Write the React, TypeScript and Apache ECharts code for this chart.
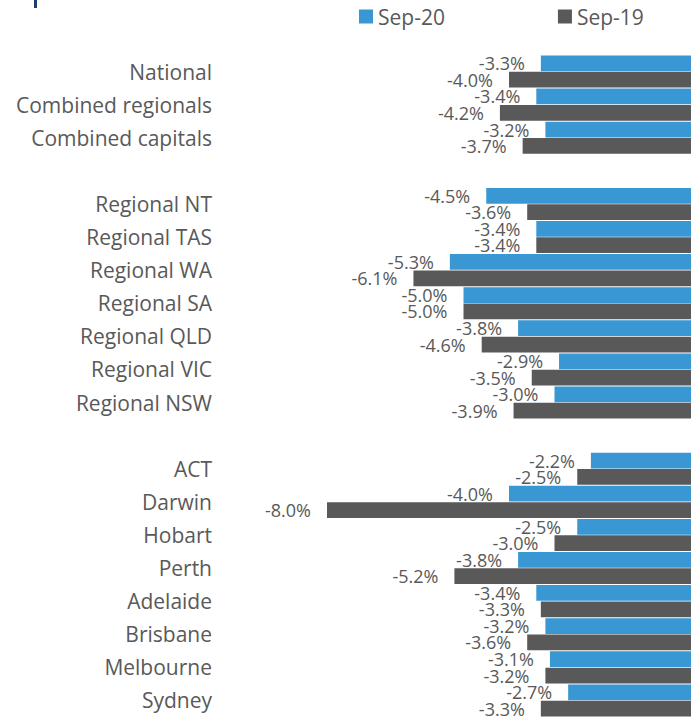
import React, { useEffect, useRef } from "react";
import * as echarts from "echarts";

const categories = [
  "National", "Combined regionals", "Combined capitals", " ",
  "Regional NT", "Regional TAS", "Regional WA", "Regional SA", "Regional QLD", "Regional VIC", "Regional NSW", "  ",
  "ACT", "Darwin", "Hobart", "Perth", "Adelaide", "Brisbane", "Melbourne", "Sydney",
];
const sep20 = [
  -3.3, -3.4, -3.2, null,
  -4.5, -3.4, -5.3, -5.0, -3.8, -2.9, -3.0, null,
  -2.2, -4.0, -2.5, -3.8, -3.4, -3.2, -3.1, -2.7,
];
const sep19 = [
  -4.0, -4.2, -3.7, null,
  -3.6, -3.4, -6.1, -5.0, -4.6, -3.5, -3.9, null,
  -2.5, -8.0, -3.0, -5.2, -3.3, -3.6, -3.2, -3.3,
];
const seriesNames = ["Sep-20", "Sep-19"];

const FONT = "'Open Sans', 'Noto Sans', sans-serif";
const TEXT = "#595959";

export default function App() {
  const ref = useRef<HTMLDivElement>(null);
  useEffect(() => {
    const chart = echarts.init(ref.current!, null, { renderer: "svg" });
    const label = {
      show: true,
      position: "left",
      distance: 16,
      color: TEXT,
      fontSize: 18,
      fontFamily: FONT,
      formatter: (p: any) => (p.value == null ? "" : Number(p.value).toFixed(1) + "%"),
    };
    chart.setOption({
      animation: false,
      textStyle: { fontFamily: FONT },
      legend: {
        data: seriesNames,
        left: 354,
        top: 1,
        itemWidth: 14,
        itemHeight: 14,
        itemGap: 113,
        icon: "rect",
        textStyle: { color: TEXT, fontSize: 21, fontFamily: FONT },
      },
      graphic: [
        { type: "rect", left: 34, top: 0, shape: { width: 3, height: 8 }, style: { fill: "#1b3f6b" } },
      ],
      grid: { left: 236, right: 0, top: 55, height: 664 },
      xAxis: {
        type: "value",
        min: -10,
        max: 0,
        show: false,
      },
      yAxis: {
        type: "category",
        inverse: true,
        data: categories,
        axisLine: { show: false, onZero: false },
        axisTick: { show: false },
        axisLabel: { color: TEXT, fontSize: 21, fontFamily: FONT, margin: 24 },
        splitLine: { show: false },
      },
      series: [
        {
          name: seriesNames[0],
          type: "bar",
          data: sep20,
          itemStyle: { color: "#3997d4" },
          barGap: "4%",
          barCategoryGap: "3%",
          label,
        },
        {
          name: seriesNames[1],
          type: "bar",
          data: sep19,
          itemStyle: { color: "#595959" },
          barGap: "4%",
          barCategoryGap: "3%",
          label,
        },
      ],
    });
    return () => chart.dispose();
  }, []);
  return (
    <div
      ref={ref}
      style={{ position: "absolute", left: 0, top: 0, width: 691, height: 717, background: "#fff" }}
    />
  );
}
